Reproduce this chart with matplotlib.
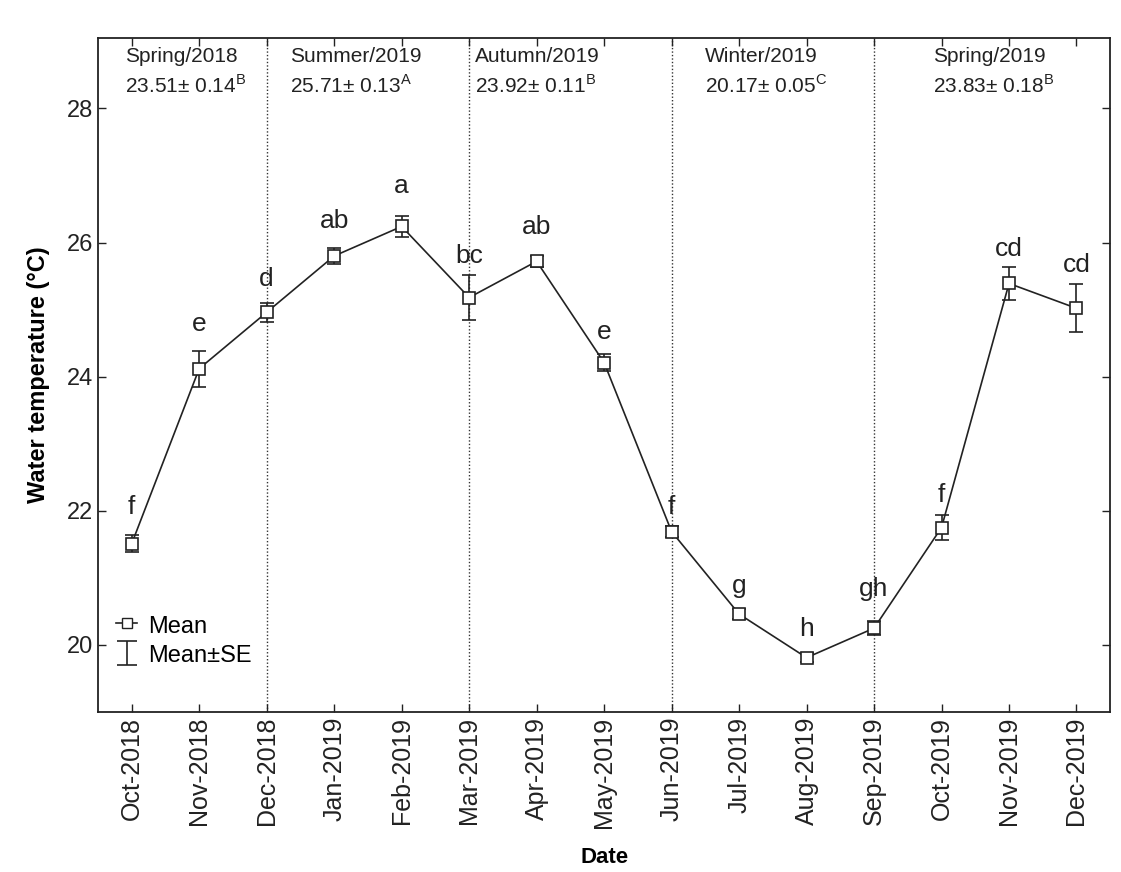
import matplotlib
matplotlib.use('Agg')
import matplotlib.pyplot as plt
from matplotlib.lines import Line2D

plt.rcParams['font.family'] = ['Liberation Sans', 'DejaVu Sans']
plt.rcParams['mathtext.fontset'] = 'custom'
plt.rcParams['mathtext.rm'] = 'Liberation Sans'

months = ['Oct-2018', 'Nov-2018', 'Dec-2018', 'Jan-2019', 'Feb-2019', 'Mar-2019',
          'Apr-2019', 'May-2019', 'Jun-2019', 'Jul-2019', 'Aug-2019', 'Sep-2019',
          'Oct-2019', 'Nov-2019', 'Dec-2019']
temp_mean = [21.51, 24.12, 24.96, 25.80, 26.24, 25.18, 25.72, 24.21, 21.69, 20.46,
             19.81, 20.25, 21.75, 25.39, 25.02]
temp_se = [0.13, 0.27, 0.14, 0.12, 0.15, 0.33, 0.08, 0.13, 0.08, 0.07,
           0.07, 0.10, 0.18, 0.25, 0.36]
letters = ['f', 'e', 'd', 'ab', 'a', 'bc', 'ab', 'e', 'f', 'g', 'h', 'gh', 'f', 'cd', 'cd']
# gap (points) between top of error bar and letter baseline
letter_pad = [15, 14, 12, 14, 17, 9, 16, 11, 9, 12, 12, 18, 10, 8, 9]

seasons = ['Spring/2018', 'Summer/2019', 'Autumn/2019', 'Winter/2019', 'Spring/2019']
season_mean = ['23.51', '25.71', '23.92', '20.17', '23.83']
season_se = ['0.14', '0.13', '0.11', '0.05', '0.18']
season_group = ['B', 'A', 'B', 'C', 'B']
season_x = [-0.1, 2.34, 5.08, 8.5, 11.87]
season_breaks = [2, 5, 8, 11]

fig = plt.figure(figsize=(11.21, 8.72), dpi=100)
ax = fig.add_axes([0.0874, 0.1835, 0.9030, 0.7729])

x = list(range(len(months)))
ax.errorbar(x, temp_mean, yerr=temp_se, fmt='s-', color='#222222', mfc='white',
            mec='#222222', ms=8, mew=1.2, lw=1.2, elinewidth=1.2, capsize=5,
            capthick=1.2, zorder=3)

for xi, m, s, lab, pad in zip(x, temp_mean, temp_se, letters, letter_pad):
    ax.annotate(lab, (xi, m + s), xytext=(0, pad), textcoords='offset points',
                ha='center', va='baseline', fontsize=19, color='#222222')

for b in season_breaks:
    ax.axvline(b, color='#333333', ls=(0, (1, 1.5)), lw=1.0, zorder=1)

for sx, name, mu, se, g in zip(season_x, seasons, season_mean, season_se, season_group):
    ax.text(sx, 0.973, name, transform=ax.get_xaxis_transform(), ha='left',
            va='center', fontsize=15, color='#222222')
    ax.text(sx, 0.930, mu + '± ' + se + r'$^{\mathrm{' + g + '}}$',
            transform=ax.get_xaxis_transform(), ha='left', va='center',
            fontsize=15, color='#222222')

ax.set_xlim(-0.5, 14.5)
ax.set_ylim(19.0, 29.05)
ax.set_xticks(x)
ax.set_xticklabels(months, rotation=90, fontsize=18)
ax.set_yticks([20, 22, 24, 26, 28])
ax.tick_params(axis='y', labelsize=17)
ax.tick_params(direction='in', top=True, right=True, length=6, width=1.0,
               color='#222222', labelcolor='#222222')
for sp in ax.spines.values():
    sp.set_linewidth(1.3)
    sp.set_color('#222222')

ax.set_xlabel('Date', fontsize=16, fontweight='bold', labelpad=14)
ax.set_ylabel('Water temperature (°C)', fontsize=17, fontweight='bold', labelpad=12)

# legend handles; the SE sample sits outside the x range so only the key shows it
mean_h = Line2D([], [], color='#222222', marker='s', mfc='white', ms=7, lw=1.2)
se_h = ax.errorbar([-10], [24], yerr=[1], fmt='none', ecolor='#222222', capsize=7,
                   elinewidth=1.2, capthick=1.2)
ax.legend([mean_h, se_h], ['Mean', 'Mean±SE'], loc='lower left',
          bbox_to_anchor=(-0.003, 0.035), frameon=False, fontsize=17,
          handlelength=0.9, handletextpad=0.45, labelspacing=0.25,
          handleheight=1.0)

fig.savefig('out.png', dpi=100)
